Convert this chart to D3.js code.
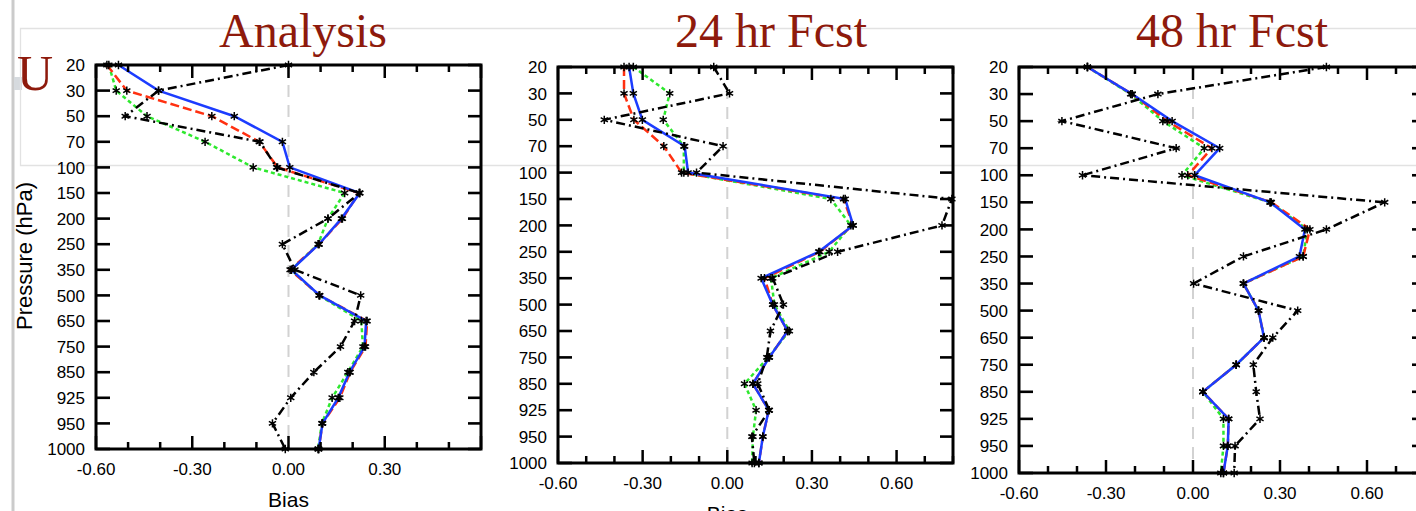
<!DOCTYPE html>
<html>
<head>
<meta charset="utf-8">
<script src="https://cdn.jsdelivr.net/npm/d3@7"></script>
<style>
  body { margin: 0; background: #fff; }
  svg { display: block; }
</style>
</head>
<body>
<div id="chart"></div>
<script>
// pressure levels (hPa), top of the profile first
const levels = [20, 30, 50, 70, 100, 150, 200, 250, 350, 500, 650, 750, 850, 925, 950, 1000];

const panelTitles = ["Analysis", "24 hr Fcst", "48 hr Fcst"];
const xTickLabels = [-0.6, -0.3, 0, 0.3, 0.6];

// U bias, one array per experiment and panel
const anaBlue  = [-0.53, -0.405, -0.169, -0.019, 0.004, 0.222, 0.165, 0.095, 0.009, 0.097, 0.242, 0.237, 0.19, 0.155, 0.106, 0.094];
const anaRed   = [-0.566, -0.504, -0.239, -0.091, -0.034, 0.22, 0.168, 0.095, 0.005, 0.097, 0.245, 0.24, 0.192, 0.16, 0.106, 0.094];
const anaGreen = [-0.56, -0.537, -0.441, -0.26, -0.11, 0.175, 0.123, 0.092, 0.009, 0.095, 0.227, 0.232, 0.185, 0.136, 0.104, 0.092];
const anaBlack = [0.0, -0.405, -0.509, -0.089, -0.037, 0.222, 0.123, -0.019, 0.02, 0.225, 0.206, 0.162, 0.079, 0.007, -0.05, -0.01];

const f24Blue  = [-0.348, -0.333, -0.301, -0.151, -0.139, 0.418, 0.446, 0.324, 0.12, 0.161, 0.214, 0.149, 0.091, 0.147, 0.126, 0.112];
const f24Red   = [-0.366, -0.366, -0.331, -0.225, -0.162, 0.412, 0.446, 0.328, 0.132, 0.161, 0.214, 0.149, 0.091, 0.147, 0.126, 0.112];
const f24Green = [-0.333, -0.204, -0.227, -0.154, -0.154, 0.367, 0.438, 0.361, 0.155, 0.167, 0.22, 0.145, 0.061, 0.102, 0.091, 0.088];
const f24Black = [-0.048, 0.008, -0.436, -0.015, -0.109, 0.796, 0.761, 0.391, 0.161, 0.199, 0.153, 0.14, 0.108, 0.149, 0.087, 0.096];

const f48Blue  = [-0.364, -0.21, -0.072, 0.092, 0.006, 0.266, 0.386, 0.367, 0.174, 0.226, 0.245, 0.149, 0.034, 0.123, 0.12, 0.105];
const f48Red   = [-0.364, -0.21, -0.089, 0.065, -0.018, 0.27, 0.403, 0.38, 0.174, 0.226, 0.245, 0.149, 0.034, 0.123, 0.12, 0.105];
const f48Green = [-0.364, -0.215, -0.104, 0.039, -0.038, 0.266, 0.394, 0.38, 0.174, 0.226, 0.245, 0.149, 0.034, 0.105, 0.105, 0.096];
const f48Black = [0.46, -0.121, -0.452, -0.058, -0.381, 0.661, 0.46, 0.174, 0.002, 0.361, 0.275, 0.208, 0.218, 0.231, 0.145, 0.142];

// line styles, drawn in this order
const styles = [
    { key: "green", color: "#2ee82e", dash: "4,3" },
    { key: "red",   color: "#ff3010", dash: "9,4" },
    { key: "blue",  color: "#1c3cff", dash: null },
    { key: "black", color: "#000",    dash: "9,4,2,4" }
];

// the third panel's "Bias" falls below the slide edge, so it has none
const panels = [
    { title: panelTitles[0], left: 96,  right: 481,  top: 65, bottom: 449, xMax: 0.6, titleX: 303, xTitle: true,
      labels: xTickLabels.slice(0, 4), series: { blue: anaBlue, red: anaRed, green: anaGreen, black: anaBlack } },
    { title: panelTitles[1], left: 558, right: 953,  top: 67, bottom: 463, xMax: 0.8, titleX: 771, xTitle: true,
      labels: xTickLabels, series: { blue: f24Blue, red: f24Red, green: f24Green, black: f24Black } },
    { title: panelTitles[2], left: 1019, right: 1425, top: 67, bottom: 473, xMax: 0.8, titleX: 1232, xTitle: false,
      labels: xTickLabels, series: { blue: f48Blue, red: f48Red, green: f48Green, black: f48Black } }
];

const width = 1416, height = 511;
const svg = d3.select("#chart").append("svg")
    .attr("width", width)
    .attr("height", height);

// slide furniture behind the plots
svg.append("line").attr("x1", 13).attr("x2", 13).attr("y1", 0).attr("y2", height)
    .attr("stroke", "#cbcbcb").attr("stroke-width", 3);
svg.append("rect").attr("x", 14).attr("y", 77).attr("width", 8).attr("height", 13).attr("fill", "#d6dade");
svg.append("path").attr("d", "M1420,28.5H20.5V165.5H1420")
    .attr("fill", "none").attr("stroke", "#e2e2e2").attr("stroke-width", 1.3);

const tickFont = "Liberation Sans, Arial, Helvetica, sans-serif";
const titleFont = "Liberation Serif, Times New Roman, serif";
const titleColor = "#8e1a0c";

panels.forEach(p => {
    const x = d3.scaleLinear().domain([-0.6, p.xMax]).range([p.left, p.right]);
    const y = d3.scalePoint().domain(levels).range([p.top, p.bottom]).padding(0);
    const g = svg.append("g");

    // zero reference line
    g.append("line")
        .attr("x1", x(0)).attr("x2", x(0))
        .attr("y1", p.top).attr("y2", p.bottom)
        .attr("stroke", "#d2d2d2").attr("stroke-width", 2)
        .attr("stroke-dasharray", "12,8");

    // profiles
    const line = d3.line().x(d => x(d.v)).y(d => y(d.lev));
    styles.forEach(s => {
        const pts = levels.map((lev, i) => ({ lev: lev, v: p.series[s.key][i] }));
        g.append("path")
            .datum(pts)
            .attr("d", line)
            .attr("fill", "none")
            .attr("stroke", s.color)
            .attr("stroke-width", 2.5)
            .attr("stroke-dasharray", s.dash);
    });
    const star = d3.symbol().type(d3.symbolAsterisk).size(48);
    styles.forEach(s => {
        g.append("g").selectAll("path")
            .data(levels.map((lev, i) => ({ lev: lev, v: p.series[s.key][i] })))
            .join("path")
            .attr("transform", d => `translate(${x(d.v)},${y(d.lev)})`)
            .attr("d", star)
            .attr("fill", "none")
            .attr("stroke", "#000")
            .attr("stroke-width", 1.5);
    });

    // x ticks: major every 0.3, minor every 0.1, pointing inward on top and bottom
    const minor = d3.range(-6, Math.round(p.xMax * 10) + 1).map(k => k / 10);
    minor.forEach(v => {
        const isMajor = Math.abs(Math.round(v * 10)) % 3 === 0;
        const len = isMajor ? 13 : 7;
        g.append("line").attr("x1", x(v)).attr("x2", x(v))
            .attr("y1", p.bottom).attr("y2", p.bottom - len)
            .attr("stroke", "#000").attr("stroke-width", 2.5);
        g.append("line").attr("x1", x(v)).attr("x2", x(v))
            .attr("y1", p.top).attr("y2", p.top + len)
            .attr("stroke", "#000").attr("stroke-width", 2.5);
    });
    g.append("g").selectAll("text")
        .data(p.labels)
        .join("text")
        .attr("x", d => x(d))
        .attr("y", p.bottom + 26)
        .attr("text-anchor", "middle")
        .style("font-family", tickFont)
        .style("font-size", "17px")
        .text(d => d3.format(".2f")(d).replace("−", "-"));

    // y ticks on both sides, inward
    levels.forEach(lev => {
        g.append("line").attr("x1", p.left).attr("x2", p.left + 14)
            .attr("y1", y(lev)).attr("y2", y(lev))
            .attr("stroke", "#000").attr("stroke-width", 2.6);
        g.append("line").attr("x1", p.right).attr("x2", p.right - 13)
            .attr("y1", y(lev)).attr("y2", y(lev))
            .attr("stroke", "#000").attr("stroke-width", 2.6);
    });
    g.append("g").selectAll("text")
        .data(levels)
        .join("text")
        .attr("x", p.left - 11)
        .attr("y", d => y(d))
        .attr("dy", "0.36em")
        .attr("text-anchor", "end")
        .style("font-family", tickFont)
        .style("font-size", "17px")
        .text(d => d);

    // frame
    g.append("rect")
        .attr("x", p.left).attr("y", p.top)
        .attr("width", p.right - p.left).attr("height", p.bottom - p.top)
        .attr("fill", "none").attr("stroke", "#000").attr("stroke-width", 3);

    // axis title and panel title
    if (p.xTitle) {
        g.append("text")
            .attr("x", x(0))
            .attr("y", p.bottom + 58)
            .attr("text-anchor", "middle")
            .style("font-family", tickFont)
            .style("font-size", "21px")
            .text("Bias");
    }

    svg.append("text")
        .attr("x", p.titleX)
        .attr("y", 47)
        .attr("text-anchor", "middle")
        .style("font-family", titleFont)
        .style("font-size", "48px")
        .style("fill", titleColor)
        .text(p.title);
});

svg.append("text")
    .attr("transform", "translate(32,256) rotate(-90)")
    .attr("text-anchor", "middle")
    .style("font-family", tickFont)
    .style("font-size", "22px")
    .text("Pressure (hPa)");

svg.append("text")
    .attr("x", 17)
    .attr("y", 90)
    .style("font-family", titleFont)
    .style("font-size", "50px")
    .style("fill", titleColor)
    .text("U");
</script>
</body>
</html>
